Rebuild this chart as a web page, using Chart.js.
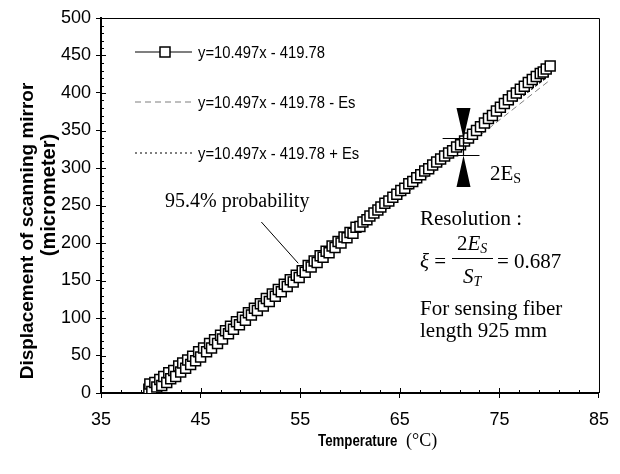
<!DOCTYPE html>
<html>
<head>
<meta charset="utf-8">
<script src="https://cdn.jsdelivr.net/npm/chart.js@4.4.1/dist/chart.umd.min.js"></script>
<style>
    html, body { margin: 0; padding: 0; background: #fff; }
</style>
</head>
<body>
<canvas id="myScatterChart" width="620" height="474"></canvas>
<script>
var temperature = [
    39.8, 39.9, 40.1, 40.4, 40.6, 40.9, 41.1, 41.3, 41.6, 41.8,
    42.0, 42.3, 42.5, 42.8, 43.0, 43.2, 43.5, 43.7, 44.0, 44.2,
    44.5, 44.8, 45.0, 45.3, 45.6, 45.9, 46.1, 46.4, 46.7, 47.0,
    47.2, 47.5, 47.8, 48.0, 48.3, 48.6, 48.9, 49.2, 49.5, 49.8,
    50.1, 50.4, 50.7, 51.0, 51.3, 51.6, 51.9, 52.2, 52.5, 52.8,
    53.1, 53.4, 53.7, 54.0, 54.3, 54.6, 54.9, 55.2, 55.5, 55.8,
    56.1, 56.4, 56.7, 57.0, 57.3, 57.6, 57.9, 58.2, 58.5, 58.8,
    59.1, 59.4, 59.7, 60.0, 60.3, 60.6, 61.0, 61.3, 61.7, 62.0,
    62.4, 62.8, 63.1, 63.5, 63.9, 64.3, 64.7, 65.1, 65.5, 65.9,
    66.3, 66.7, 67.1, 67.5, 67.9, 68.3, 68.7, 69.1, 69.5, 69.9,
    70.3, 70.7, 71.1, 71.5, 71.9, 72.3, 72.7, 73.1, 73.5, 73.9,
    74.3, 74.7, 75.1, 75.5, 75.9, 76.3, 76.7, 77.1, 77.5, 77.9,
    78.3, 78.7, 79.1, 79.4, 79.7, 80.1
];
var displacement = [
    5, 12, 2, 14, 8, 18, 10, 22, 14, 27,
    19, 30, 22, 36, 28, 40, 33, 44, 38, 49,
    43, 55, 48, 60, 55, 66, 60, 71, 66, 77,
    72, 83, 79, 89, 85, 95, 91, 101, 97, 107,
    104, 113, 110, 119, 116, 126, 122, 132, 129, 138,
    135, 145, 142, 151, 148, 157, 154, 163, 161, 170,
    168, 176, 174, 183, 181, 189, 187, 196, 194, 202,
    200, 208, 207, 214, 213, 221, 222, 228, 231, 236,
    240, 244, 248, 253, 256, 261, 265, 270, 273, 279,
    282, 287, 291, 296, 299, 304, 308, 312, 316, 320,
    323, 328, 331, 336, 340, 345, 350, 355, 360, 366,
    370, 376, 381, 386, 391, 396, 400, 405, 409, 414,
    418, 422, 426, 428, 432, 436
];
// fit line +/- Es, end points
var fitTemperature = [40, 80];
var fitLower = [-3.5, 416.4];
var fitUpper = [3.7, 423.6];

var xTicks = [35, 45, 55, 65, 75, 85];
var yTicks = [0, 50, 100, 150, 200, 250, 300, 350, 400, 450, 500];
var seriesLabels = ['y=10.497x - 419.78', 'y=10.497x - 419.78 - Es', 'y=10.497x - 419.78 + Es'];

var SANS = "'Liberation Sans', Arial, sans-serif";
var SERIF = "'Liberation Serif', 'Times New Roman', serif";

function toPoints(xs, ys) {
    return xs.map(function (x, i) { return { x: x, y: ys[i] }; });
}

function drawRuns(ctx, x, baseline, runs) {
    runs.forEach(function (r) {
        ctx.font = r.font;
        ctx.fillText(r.t, x, baseline + (r.dy || 0));
        x += ctx.measureText(r.t).width;
    });
    return x;
}

// text squeezed horizontally, like the narrow sans of the original
function drawNarrow(ctx, text, x, y, font, sx) {
    ctx.save();
    ctx.translate(x, y);
    ctx.scale(sx, 1);
    ctx.font = font;
    ctx.fillText(text, 0, 0);
    ctx.restore();
}

var decorations = {
    id: 'decorations',
    afterDraw: function (chart) {
        var ctx = chart.ctx;
        var a = chart.chartArea;
        var xs = chart.scales.x, ys = chart.scales.y;
        ctx.save();
        ctx.strokeStyle = '#000';
        ctx.fillStyle = '#000';

        // frame top / right
        ctx.lineWidth = 1;
        ctx.beginPath();
        ctx.moveTo(a.left, a.top + 0.5);
        ctx.lineTo(a.right + 0.5, a.top + 0.5);
        ctx.lineTo(a.right + 0.5, a.bottom);
        ctx.stroke();

        // inner half of major ticks, minor ticks
        ctx.beginPath();
        yTicks.forEach(function (v) {
            var p = Math.round(ys.getPixelForValue(v)) + 0.5;
            ctx.moveTo(a.left, p); ctx.lineTo(a.left + 5, p);
        });
        xTicks.forEach(function (v) {
            var p = Math.round(xs.getPixelForValue(v)) + 0.5;
            ctx.moveTo(p, a.bottom); ctx.lineTo(p, a.bottom - 5);
        });
        for (var v = 0; v <= 500; v += 10) {
            var py = Math.round(ys.getPixelForValue(v)) + 0.5;
            ctx.moveTo(a.left, py); ctx.lineTo(a.left + 3, py);
        }
        for (var t = 35; t <= 85; t += 2) {
            var px = Math.round(xs.getPixelForValue(t)) + 0.5;
            ctx.moveTo(px, a.bottom); ctx.lineTo(px, a.bottom - 3);
        }
        ctx.stroke();

        // legend
        var rows = [52, 102, 153];
        chart.data.datasets.forEach(function (ds, i) {
            var yRow = rows[i];
            ctx.save();
            ctx.strokeStyle = ds.borderColor;
            ctx.lineWidth = 1.2;
            ctx.setLineDash(ds.borderDash || []);
            ctx.beginPath();
            ctx.moveTo(135, yRow); ctx.lineTo(192, yRow);
            ctx.stroke();
            ctx.setLineDash([]);
            if (i === 0) {
                ctx.fillStyle = '#fff';
                ctx.lineWidth = 1.5;
                ctx.fillRect(160, yRow - 5, 10, 10);
                ctx.strokeRect(160, yRow - 5, 10, 10);
            }
            ctx.restore();
            ctx.textBaseline = 'middle';
            drawNarrow(ctx, seriesLabels[i], 198, yRow + 1, '17px ' + SANS, 0.87);
        });

        // axis titles
        ctx.textBaseline = 'alphabetic';
        drawNarrow(ctx, 'Temperature', 318, 446, 'bold 16px ' + SANS, 0.83);
        drawRuns(ctx, 406, 446, [{ t: '(\u00B0C)', font: '18px ' + SERIF }]);

        ctx.save();
        ctx.rotate(-Math.PI / 2);
        ctx.textAlign = 'center';
        ctx.textBaseline = 'middle';
        ctx.font = 'bold 19px ' + SANS;
        ctx.fillText('Displacement of scanning mirror', -231, 28);
        ctx.font = 'bold 20px ' + SANS;
        ctx.fillText('(micrometer)', -195, 49);
        ctx.restore();

        // 2Es marker
        var mx = Math.round(xs.getPixelForValue(71.3)) + 0.5;
        var yUp = Math.round(ys.getPixelForValue(340.4)) + 0.5;
        var yLo = Math.round(ys.getPixelForValue(317.3)) + 0.5;
        var yUpBase = ys.getPixelForValue(380);
        var yLoBase = ys.getPixelForValue(274.7);
        ctx.lineWidth = 1.2;
        ctx.beginPath();
        ctx.moveTo(xs.getPixelForValue(69.3), yUp); ctx.lineTo(xs.getPixelForValue(71.8), yUp);
        ctx.moveTo(xs.getPixelForValue(70.6), yLo); ctx.lineTo(xs.getPixelForValue(73.0), yLo);
        ctx.moveTo(mx, yUp); ctx.lineTo(mx, yLo);
        ctx.stroke();
        ctx.beginPath();
        ctx.moveTo(mx - 7, yUpBase); ctx.lineTo(mx + 7, yUpBase); ctx.lineTo(mx, yUp); ctx.closePath();
        ctx.moveTo(mx - 7, yLoBase); ctx.lineTo(mx + 7, yLoBase); ctx.lineTo(mx, yLo); ctx.closePath();
        ctx.fill();

        // leader line to the band
        ctx.lineWidth = 1;
        ctx.beginPath();
        ctx.moveTo(xs.getPixelForValue(51.1), ys.getPixelForValue(228));
        ctx.lineTo(xs.getPixelForValue(54.8), ys.getPixelForValue(173));
        ctx.stroke();

        // annotation texts
        var f21 = '21px ' + SERIF, i21 = 'italic 21px ' + SERIF, i14 = 'italic 14px ' + SERIF;
        drawRuns(ctx, 165, 207, [{ t: '95.4% probability', font: '20px ' + SERIF }]);
        drawRuns(ctx, 490, 180, [{ t: '2E', font: f21 }, { t: 'S', font: '14px ' + SERIF, dy: 3 }]);
        drawRuns(ctx, 420, 225, [{ t: 'Resolution :', font: f21 }]);
        drawRuns(ctx, 420, 268, [{ t: '\u03BE', font: i21 }, { t: ' =', font: f21 }]);
        drawRuns(ctx, 457, 250, [{ t: '2', font: f21 }, { t: 'E', font: i21 }, { t: 'S', font: i14, dy: 3 }]);
        ctx.beginPath();
        ctx.moveTo(452, 258.5); ctx.lineTo(493, 258.5);
        ctx.stroke();
        drawRuns(ctx, 463, 283, [{ t: 'S', font: i21 }, { t: 'T', font: i14, dy: 3 }]);
        drawRuns(ctx, 497, 268, [{ t: '= 0.687', font: f21 }]);
        drawRuns(ctx, 420, 315, [{ t: 'For sensing fiber', font: f21 }]);
        drawRuns(ctx, 420, 337, [{ t: 'length 925 mm', font: f21 }]);

        ctx.restore();
    }
};

var ctx = document.getElementById('myScatterChart').getContext('2d');
var chart = new Chart(ctx, {
    type: 'scatter',
    data: {
        datasets: [{
            label: seriesLabels[0],
            data: toPoints(temperature, displacement),
            showLine: true,
            borderColor: '#000',
            borderWidth: 1,
            backgroundColor: '#fff',
            pointStyle: 'rect',
            pointRadius: 7,
            pointBorderWidth: 1.5,
            pointBorderColor: '#000',
            pointBackgroundColor: '#fff'
        }, {
            label: seriesLabels[1],
            data: toPoints(fitTemperature, fitLower),
            showLine: true,
            borderColor: '#7f7f7f',
            borderWidth: 1,
            borderDash: [6, 4],
            pointRadius: 0
        }, {
            label: seriesLabels[2],
            data: toPoints(fitTemperature, fitUpper),
            showLine: true,
            borderColor: '#000',
            borderWidth: 1.2,
            borderDash: [2, 3],
            pointRadius: 0
        }]
    },
    options: {
        responsive: false,
        animation: false,
        devicePixelRatio: 1,
        layout: { padding: { top: 18, right: 19, left: 0, bottom: 0 } },
        plugins: { legend: { display: false }, tooltip: { enabled: false } },
        scales: {
            x: {
                type: 'linear',
                min: 35,
                max: 85,
                afterBuildTicks: function (axis) {
                    axis.ticks = xTicks.map(function (v) { return { value: v }; });
                },
                afterFit: function (axis) { axis.height = 81; },
                grid: { display: true, drawOnChartArea: false, tickLength: 5, color: '#000', lineWidth: 1 },
                border: { display: true, color: '#000', width: 2 },
                ticks: { color: '#000', font: { family: SANS, size: 18 }, padding: 11, maxRotation: 0 }
            },
            y: {
                type: 'linear',
                min: 0,
                max: 500,
                afterBuildTicks: function (axis) {
                    axis.ticks = yTicks.map(function (v) { return { value: v }; });
                },
                afterFit: function (axis) { axis.width = 101; },
                grid: { display: true, drawOnChartArea: false, tickLength: 5, color: '#000', lineWidth: 1 },
                border: { display: true, color: '#000', width: 2 },
                ticks: { color: '#000', font: { family: SANS, size: 18 }, padding: 5 }
            }
        }
    },
    plugins: [decorations]
});
</script>
</body>
</html>
